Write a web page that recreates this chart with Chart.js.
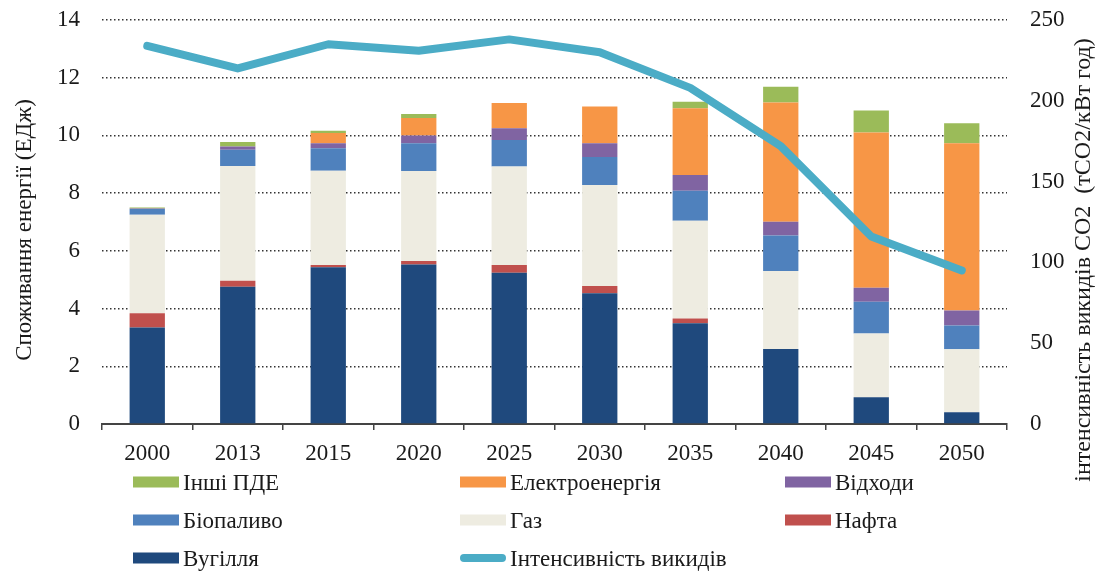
<!DOCTYPE html>
<html>
<head>
<meta charset="utf-8">
<script src="https://cdn.jsdelivr.net/npm/chart.js@4"></script>
<style>
  html, body { margin: 0; padding: 0; background: #fff; }
  #wrap { width: 1099px; height: 572px; }
</style>
</head>
<body>
<div id="wrap"><canvas id="energy"></canvas></div>
<script>
// Роки
const years = ['2000', '2013', '2015', '2020', '2025', '2030', '2035', '2040', '2045', '2050'];

// Споживання енергії, ЕДж
const coal  = [3.34, 4.76, 5.43, 5.53, 5.24, 4.53, 3.49, 2.60, 0.93, 0.41];
const oil   = [0.50, 0.20, 0.08, 0.12, 0.27, 0.25, 0.17, 0.00, 0.00, 0.00];
const gas   = [3.41, 3.98, 3.27, 3.12, 3.41, 3.50, 3.38, 2.70, 2.21, 2.18];
const bio   = [0.20, 0.56, 0.78, 0.96, 0.92, 0.97, 1.04, 1.23, 1.10, 0.82];
const waste = [0.02, 0.12, 0.17, 0.27, 0.41, 0.48, 0.55, 0.48, 0.48, 0.52];
const elec  = [0.00, 0.00, 0.35, 0.60, 0.87, 1.27, 2.31, 4.13, 5.38, 5.80];
const other = [0.03, 0.15, 0.08, 0.14, 0.00, 0.00, 0.23, 0.55, 0.76, 0.69];

// Інтенсивність викидів, тCO2/кВт год
const intensity = [234, 220, 235, 231, 238, 230, 208, 172, 116, 95];

// Тики осей
const leftTicks  = [0, 2, 4, 6, 8, 10, 12, 14];
const rightTicks = [0, 50, 100, 150, 200, 250];

const FONT = 'Liberation Serif';
const TEXT = '#1a1a1a';

function bar(label, data, color) {
  return {
    type: 'bar', label: label, data: data, backgroundColor: color,
    borderWidth: 0, yAxisID: 'y', stack: 'energy', order: 1,
    barPercentage: 0.39, categoryPercentage: 1
  };
}

const datasets = [
  bar('Вугілля', coal, '#1F497D'),
  bar('Нафта', oil, '#C0504D'),
  bar('Газ', gas, '#EEECE1'),
  bar('Біопаливо', bio, '#4F81BD'),
  bar('Відходи', waste, '#8064A2'),
  bar('Електроенергія', elec, '#F79646'),
  bar('Інші ПДЕ', other, '#9BBB59'),
  {
    type: 'line', label: 'Інтенсивність викидів', data: intensity,
    borderColor: '#4BACC6', backgroundColor: '#4BACC6', borderWidth: 8,
    pointRadius: 0, tension: 0, borderCapStyle: 'round', borderJoinStyle: 'round',
    yAxisID: 'y2', order: 0
  }
];

// легенда у три колонки, як в оригіналі
const legendOrder = ['Інші ПДЕ', 'Електроенергія', 'Відходи', 'Біопаливо', 'Газ', 'Нафта', 'Вугілля', 'Інтенсивність викидів'];

const gridLegend = {
  id: 'gridLegend',
  afterDraw(chart) {
    const c = chart.ctx, area = chart.chartArea;
    const colX = [31, 358, 683];
    const rowY = [58, 96, 134];
    c.save();
    c.font = '23px "' + FONT + '"';
    c.textBaseline = 'middle';
    c.fillStyle = TEXT;
    legendOrder.forEach((name, i) => {
      const ds = chart.data.datasets.find(d => d.label === name);
      const x = area.left + colX[i % 3];
      const y = area.bottom + rowY[Math.floor(i / 3)];
      if (ds.type === 'line') {
        c.strokeStyle = ds.borderColor;
        c.lineWidth = 8;
        c.lineCap = 'round';
        c.beginPath();
        c.moveTo(x + 4, y);
        c.lineTo(x + 42, y);
        c.stroke();
      } else {
        c.fillStyle = ds.backgroundColor;
        c.fillRect(x, y - 5.5, 46, 11);
      }
      c.fillStyle = TEXT;
      c.fillText(name, x + 50, y + 2);
    });
    c.restore();
  }
};

// обидві назви осей читаються знизу вгору
const axisTitles = {
  id: 'axisTitles',
  afterDraw(chart) {
    const c = chart.ctx, area = chart.chartArea;
    const mid = (area.top + area.bottom) / 2;
    const put = (text, size, x, y) => {
      c.save();
      c.font = size + 'px "' + FONT + '"';
      c.fillStyle = TEXT;
      c.textAlign = 'center';
      c.textBaseline = 'middle';
      c.translate(x, y);
      c.rotate(-Math.PI / 2);
      c.fillText(text, 0, 0);
      c.restore();
    };
    put('Споживання енергії (ЕДж)', 23, chart.scales.y.left + 25, mid + 8);
    put('інтенсивність викидів CO2  (тCO2/кВт год)', 24, chart.scales.y2.right - 15, mid + 38);
  }
};

function fixWidth(w) {
  return s => { s.width = w; s.paddingTop = 0; s.paddingBottom = 0; };
}

new Chart(document.getElementById('energy').getContext('2d'), {
  data: { labels: years, datasets: datasets },
  plugins: [gridLegend, axisTitles],
  options: {
    responsive: true,
    maintainAspectRatio: false,
    animation: false,
    layout: { padding: { top: 20, bottom: 108, left: 0, right: 0 } },
    plugins: { legend: { display: false }, tooltip: { enabled: false } },
    scales: {
      x: {
        stacked: true,
        afterFit: s => { s.height = 40; },
        grid: { offset: true, drawOnChartArea: false, drawTicks: true, tickLength: 6, color: '#444', lineWidth: 1.5 },
        border: { display: true, color: '#444', width: 2 },
        ticks: { color: TEXT, padding: 10, font: { family: FONT, size: 23 } }
      },
      y: {
        stacked: true,
        position: 'left',
        min: 0, max: 14,
        afterFit: fixWidth(102),
        afterBuildTicks: s => { s.ticks = leftTicks.map(v => ({ value: v })); },
        grid: { drawTicks: false, color: '#333', lineWidth: 1.5 },
        border: { display: false, dash: [1.5, 2.5] },
        ticks: { color: TEXT, padding: 22, font: { family: FONT, size: 23 } }
      },
      y2: {
        position: 'right',
        min: 0, max: 250,
        afterFit: fixWidth(92),
        afterBuildTicks: s => { s.ticks = rightTicks.map(v => ({ value: v })); },
        grid: { display: false, drawTicks: false },
        border: { display: false },
        ticks: { color: TEXT, padding: 23, font: { family: FONT, size: 23 } }
      }
    }
  }
});
</script>
</body>
</html>
